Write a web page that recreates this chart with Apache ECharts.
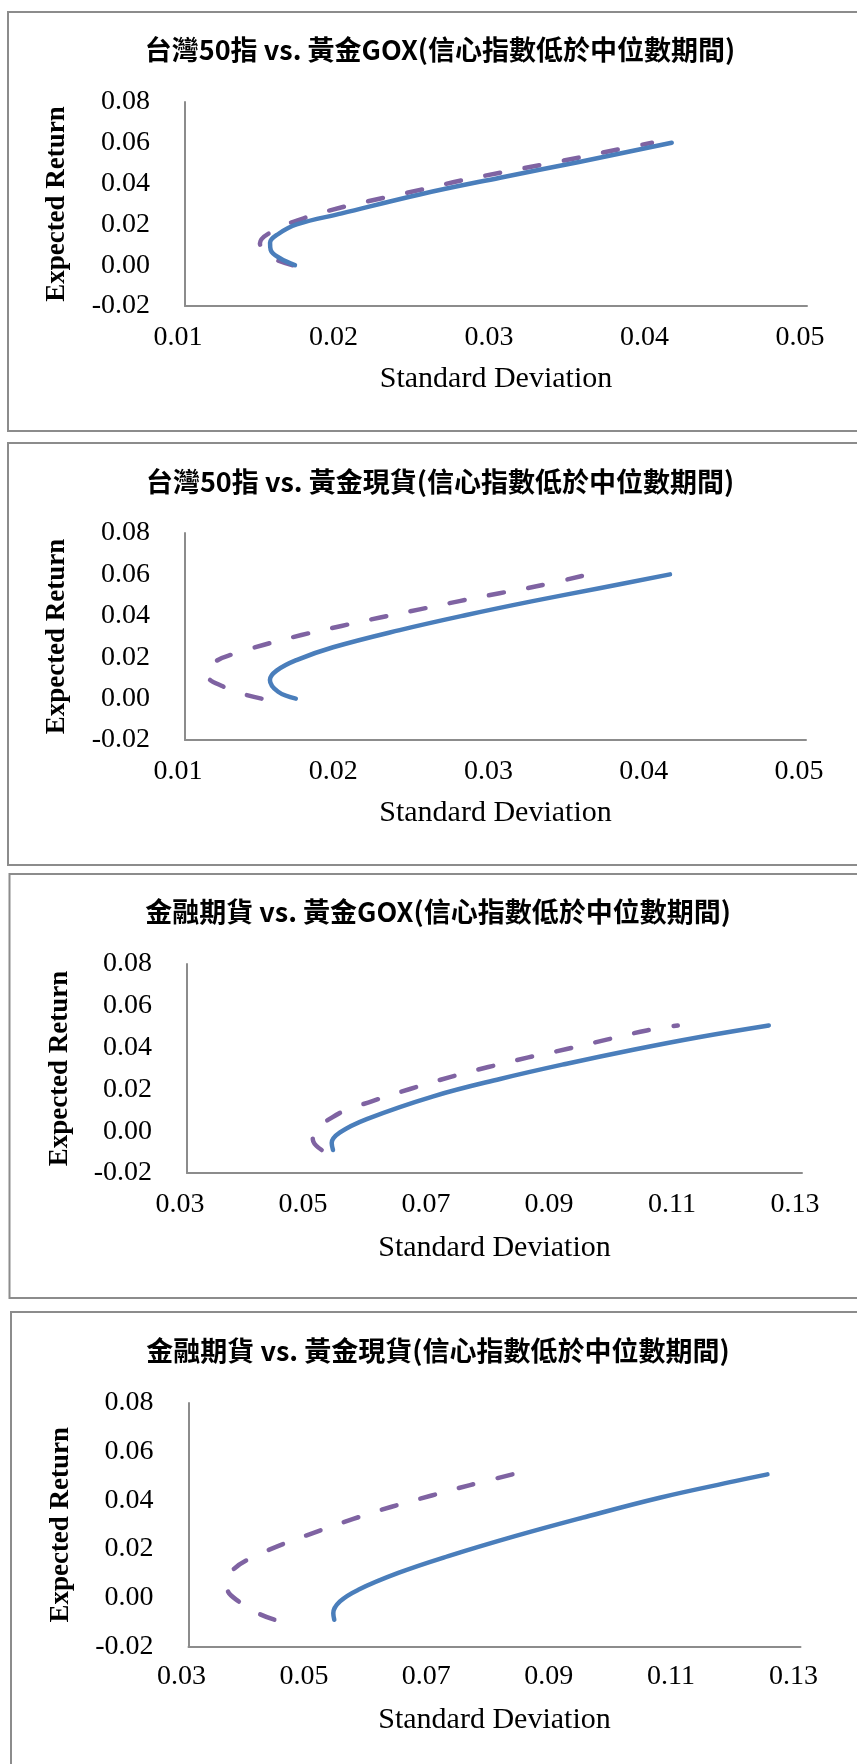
<!DOCTYPE html>
<html>
<head>
<meta charset="utf-8">
<script src="https://cdn.jsdelivr.net/npm/echarts@6/dist/echarts.min.js"></script>
<style>
  html, body { margin: 0; padding: 0; background: #ffffff; }
  #chart { width: 857px; height: 1764px; }
</style>
</head>
<body>
<div id="chart"></div>
<script>
// Chart titles, top to bottom
const panelTitles = [
  '台灣50指 vs. 黃金GOX(信心指數低於中位數期間)',
  '台灣50指 vs. 黃金現貨(信心指數低於中位數期間)',
  '金融期貨 vs. 黃金GOX(信心指數低於中位數期間)',
  '金融期貨 vs. 黃金現貨(信心指數低於中位數期間)'
];

// Axis tick labels
const yTicks = [-0.02, 0.00, 0.02, 0.04, 0.06, 0.08];
const xTicksTw50 = [0.01, 0.02, 0.03, 0.04, 0.05];
const xTicksFut = [0.03, 0.05, 0.07, 0.09, 0.11, 0.13];

const xAxisName = 'Standard Deviation';
const yAxisName = 'Expected Return';

// Frontier points: [standard deviation, expected return]
const tw50GoxSolid = [
  [0.01707, 0.0000], [0.01611, 0.0034], [0.01551, 0.0075], [0.01547, 0.0110],
  [0.01600, 0.0153], [0.01718, 0.0200], [0.02008, 0.0254], [0.02516, 0.0348],
  [0.03026, 0.0429], [0.03534, 0.0506], [0.04130, 0.0600]
];
const tw50GoxDashed = [
  [0.01693, 0.0000], [0.01579, 0.0029], [0.01514, 0.0066], [0.01482, 0.0107],
  [0.01579, 0.0173], [0.01763, 0.0230], [0.02009, 0.0284], [0.02265, 0.0328],
  [0.02511, 0.0369], [0.02768, 0.0414], [0.03026, 0.0453], [0.03283, 0.0491],
  [0.03529, 0.0527], [0.03786, 0.0568], [0.04003, 0.0600]
];

const tw50SpotSolid = [
  [0.01714, 0.0000], [0.01600, 0.0033], [0.01547, 0.0090], [0.01590, 0.0135],
  [0.01718, 0.0186], [0.01954, 0.0248], [0.02383, 0.0331], [0.02812, 0.0404],
  [0.03240, 0.0471], [0.03669, 0.0533], [0.04124, 0.0600]
];
const tw50SpotDashed = [
  [0.01493, 0.0000], [0.01375, 0.0022], [0.01247, 0.0058], [0.01144, 0.0106],
  [0.01140, 0.0130], [0.01204, 0.0183], [0.01311, 0.0215], [0.01504, 0.0259],
  [0.01750, 0.0307], [0.02008, 0.0351], [0.02265, 0.0393], [0.02511, 0.0431],
  [0.02768, 0.0471], [0.03026, 0.0509], [0.03272, 0.0544], [0.03590, 0.0598]
];

const futGoxSolid = [
  [0.05374, -0.0090], [0.05353, -0.0056], [0.05488, -0.0006], [0.05922, 0.0058],
  [0.07005, 0.0167], [0.08090, 0.0250], [0.09174, 0.0323], [0.10257, 0.0390],
  [0.11341, 0.0451], [0.12460, 0.0506]
];
const futGoxDashed = [
  [0.05190, -0.0090], [0.05054, -0.0049], [0.05044, -0.0025], [0.05109, 0.0020],
  [0.05271, 0.0050], [0.05542, 0.0095], [0.06003, 0.0143], [0.06626, 0.0202],
  [0.07276, 0.0259], [0.07900, 0.0307], [0.08550, 0.0353], [0.09174, 0.0393],
  [0.09824, 0.0438], [0.10475, 0.0482], [0.10980, 0.0506]
];

const futSpotSolid = [
  [0.05382, -0.0090], [0.05366, -0.0063], [0.05475, -0.0015], [0.05775, 0.0033],
  [0.06428, 0.0102], [0.07245, 0.0171], [0.08335, 0.0253], [0.09425, 0.0328],
  [0.10700, 0.0411], [0.11930, 0.0479], [0.12460, 0.0507]
];
const futSpotDashed = [
  [0.04402, -0.0090], [0.04131, -0.0063], [0.03830, -0.0017], [0.03634, 0.0037],
  [0.03629, 0.0074], [0.03743, 0.0119], [0.03993, 0.0160], [0.04451, 0.0211],
  [0.05067, 0.0269], [0.05693, 0.0324], [0.06320, 0.0374], [0.06974, 0.0420],
  [0.07600, 0.0463], [0.08297, 0.0507]
];

const BLUE = '#4a7ebb';
const PURPLE = '#7f63a2';
const AXIS_GREY = '#8c8c8c';
const SERIF = '"Liberation Serif", "DejaVu Serif", serif';

// Layout of each framed chart (pixels)
const panels = [
  { frame: [8, 12, 419],  grid: { left: 185, right: 50, top: 102, height: 204 }, titleY: 50,
    titleX: 440, xMin: 0.01, xMax: 0.05, xTicks: xTicksTw50, xLabelMargin: 18, xNameGap: 58, yNameGap: 114,
    solid: tw50GoxSolid, dashed: tw50GoxDashed },
  { frame: [8, 443, 422], grid: { left: 185, right: 51, top: 533, height: 207 }, titleY: 482,
    titleX: 440, xMin: 0.01, xMax: 0.05, xTicks: xTicksTw50, xLabelMargin: 18, xNameGap: 58, yNameGap: 114,
    solid: tw50SpotSolid, dashed: tw50SpotDashed },
  { frame: [9.5, 874, 424], grid: { left: 187, right: 55, top: 964, height: 209 }, titleY: 912,
    titleX: 438, xMin: 0.03, xMax: 0.13, xTicks: xTicksFut, xLabelMargin: 18, xNameGap: 60, yNameGap: 113,
    solid: futGoxSolid, dashed: futGoxDashed },
  { frame: [11, 1312, 600], grid: { left: 188.5, right: 56.5, top: 1403, height: 243.5 }, titleY: 1351,
    titleX: 438, xMin: 0.03, xMax: 0.13, xTicks: xTicksFut, xLabelMargin: 16, xNameGap: 59, yNameGap: 114,
    solid: futSpotSolid, dashed: futSpotDashed }
];

const isTick = (list, v) => list.some(t => Math.abs(t - v) < 1e-9);

const grids = [], xAxes = [], yAxes = [], series = [], graphics = [];

panels.forEach((p, i) => {
  graphics.push({
    type: 'rect', silent: true, z: 0,
    shape: { x: p.frame[0], y: p.frame[1], width: 1000, height: p.frame[2] },
    style: { fill: 'none', stroke: AXIS_GREY, lineWidth: 2 }
  });
  graphics.push({
    type: 'text', silent: true, z: 10,
    x: p.titleX, y: p.titleY,
    style: {
      text: panelTitles[i],
      fontFamily: '"Noto Sans CJK TC", "Noto Sans CJK SC", sans-serif',
      fontSize: 27, fontWeight: 'bold', fill: '#000000',
      align: 'center', verticalAlign: 'middle'
    }
  });

  grids.push(p.grid);

  xAxes.push({
    gridIndex: i, type: 'value', min: p.xMin, max: p.xMax, interval: 0.01,
    axisLine: { show: true, onZero: false, lineStyle: { color: AXIS_GREY, width: 2 } },
    axisTick: { show: false },
    splitLine: { show: false },
    axisLabel: {
      show: true, margin: p.xLabelMargin, color: '#000000',
      fontFamily: SERIF, fontSize: 28, padding: [0, 14, 0, 0],
      formatter: v => (isTick(p.xTicks, v) ? v.toFixed(2) : '')
    },
    name: xAxisName, nameLocation: 'middle', nameGap: p.xNameGap,
    nameTextStyle: { fontFamily: SERIF, fontSize: 30, color: '#000000' }
  });

  yAxes.push({
    gridIndex: i, type: 'value', min: -0.02, max: 0.08, interval: 0.02,
    axisLine: { show: true, onZero: false, lineStyle: { color: AXIS_GREY, width: 2 } },
    axisTick: { show: false },
    splitLine: { show: false },
    axisLabel: {
      show: true, margin: 35, color: '#000000',
      fontFamily: SERIF, fontSize: 28,
      formatter: v => (isTick(yTicks, v) ? v.toFixed(2) : '')
    },
    name: yAxisName, nameLocation: 'middle', nameRotate: 90, nameGap: p.yNameGap,
    nameTextStyle: { fontFamily: SERIF, fontSize: 27, fontWeight: 'bold', color: '#000000' }
  });

  series.push({
    type: 'line', xAxisIndex: i, yAxisIndex: i, data: p.solid,
    showSymbol: false, smooth: 0.4, z: 3,
    lineStyle: { color: BLUE, width: 4.5, cap: 'round', join: 'round' }
  });
  series.push({
    type: 'line', xAxisIndex: i, yAxisIndex: i, data: p.dashed,
    showSymbol: false, smooth: 0.4, z: 2,
    lineStyle: { color: PURPLE, width: 4.5, type: [15, 25], cap: 'round', join: 'round' }
  });
});

const chart = echarts.init(document.getElementById('chart'), null, { renderer: 'canvas' });
chart.setOption({
  animation: false,
  backgroundColor: '#ffffff',
  grid: grids,
  xAxis: xAxes,
  yAxis: yAxes,
  series: series,
  graphic: graphics
});
</script>
</body>
</html>
